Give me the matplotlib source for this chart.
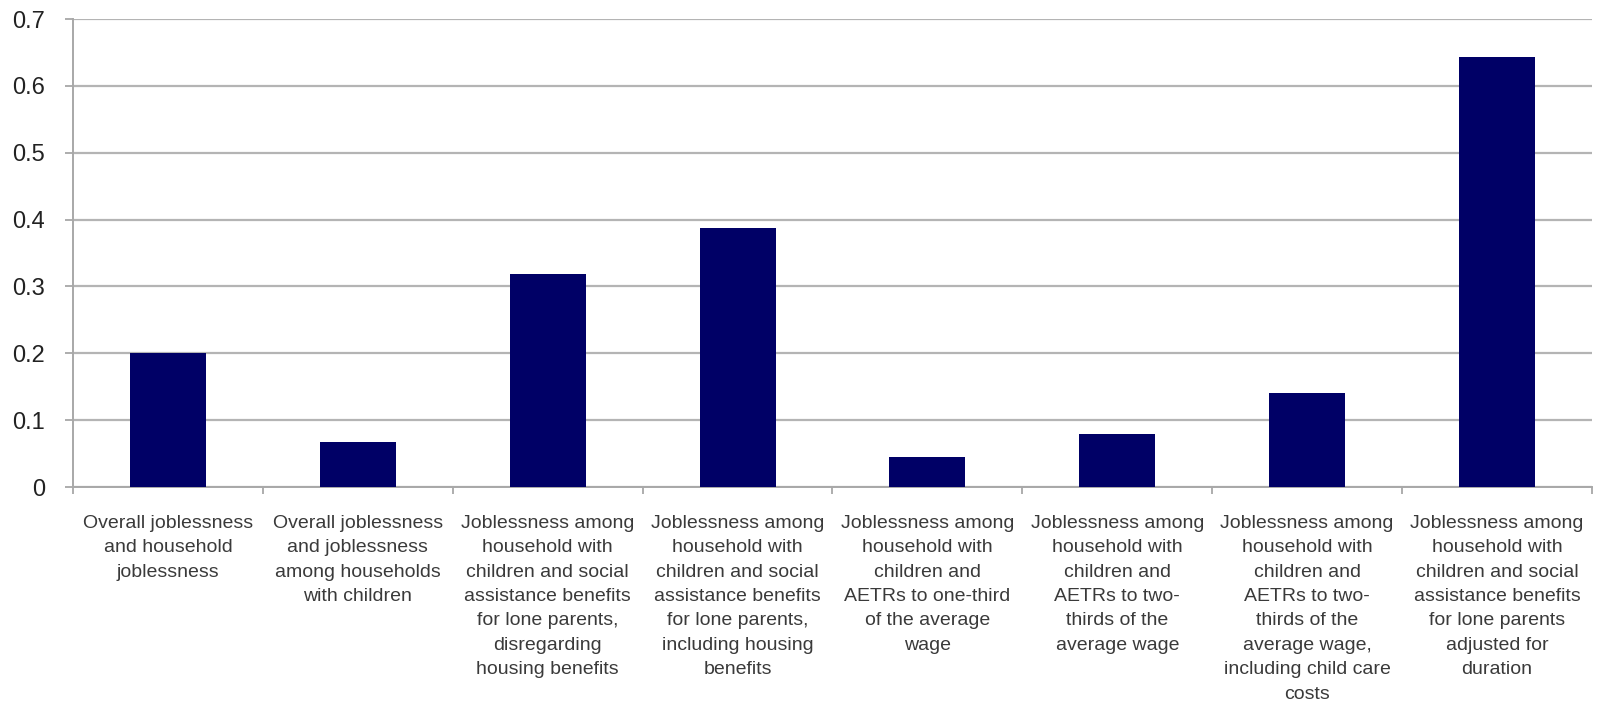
import matplotlib
matplotlib.use("Agg")
import matplotlib.pyplot as plt
import numpy as np

categories = [
    "Overall joblessness\nand household\njoblessness",
    "Overall joblessness\nand joblessness\namong households\nwith children",
    "Joblessness among\nhousehold with\nchildren and social\nassistance benefits\nfor lone parents,\ndisregarding\nhousing benefits",
    "Joblessness among\nhousehold with\nchildren and social\nassistance benefits\nfor lone parents,\nincluding housing\nbenefits",
    "Joblessness among\nhousehold with\nchildren and\nAETRs to one-third\nof the average\nwage",
    "Joblessness among\nhousehold with\nchildren and\nAETRs to two-\nthirds of the\naverage wage",
    "Joblessness among\nhousehold with\nchildren and\nAETRs to two-\nthirds of the\naverage wage,\nincluding child care\ncosts",
    "Joblessness among\nhousehold with\nchildren and social\nassistance benefits\nfor lone parents\nadjusted for\nduration",
]
values = [0.200, 0.068, 0.318, 0.387, 0.045, 0.080, 0.140, 0.643]
yticks = [0, 0.1, 0.2, 0.3, 0.4, 0.5, 0.6, 0.7]
ytick_labels = ["0", "0.1", "0.2", "0.3", "0.4", "0.5", "0.6", "0.7"]

plt.rcParams['font.family'] = ['Liberation Sans', 'DejaVu Sans']

fig = plt.figure(figsize=(16.06, 7.04), dpi=100)
ax = fig.add_axes([73/1606, 1 - 487/704, (1592-73)/1606, (487-19)/704])

x = np.arange(len(values))
ax.bar(x, values, width=0.4, color="#000066", zorder=3)

ax.set_xlim(-0.5, len(values) - 0.5)
ax.set_ylim(0, 0.7)
ax.set_yticks(yticks)
ax.set_yticklabels(ytick_labels, fontsize=17, color="#222222")
ax.yaxis.grid(True, color="#b4b4b4", linewidth=1.6, zorder=0)

# category labels between the boundary ticks
ax.set_xticks(x)
ax.set_xticklabels(categories, fontsize=14, color="#3a3a3a", linespacing=1.57, va="top")
ax.tick_params(axis="x", which="major", length=0, pad=20)
ax.set_xticks(np.arange(len(values) + 1) - 0.5, minor=True)
ax.tick_params(axis="x", which="minor", length=5, color="#a0a0a0", width=1.2)
ax.tick_params(axis="y", length=6, color="#a0a0a0", width=1.2, pad=14)

for side in ["top", "right"]:
    ax.spines[side].set_visible(False)
for side in ["left", "bottom"]:
    ax.spines[side].set_color("#a8a8a8")
    ax.spines[side].set_linewidth(1.4)

fig.savefig("out.png", dpi=100, facecolor="white")
